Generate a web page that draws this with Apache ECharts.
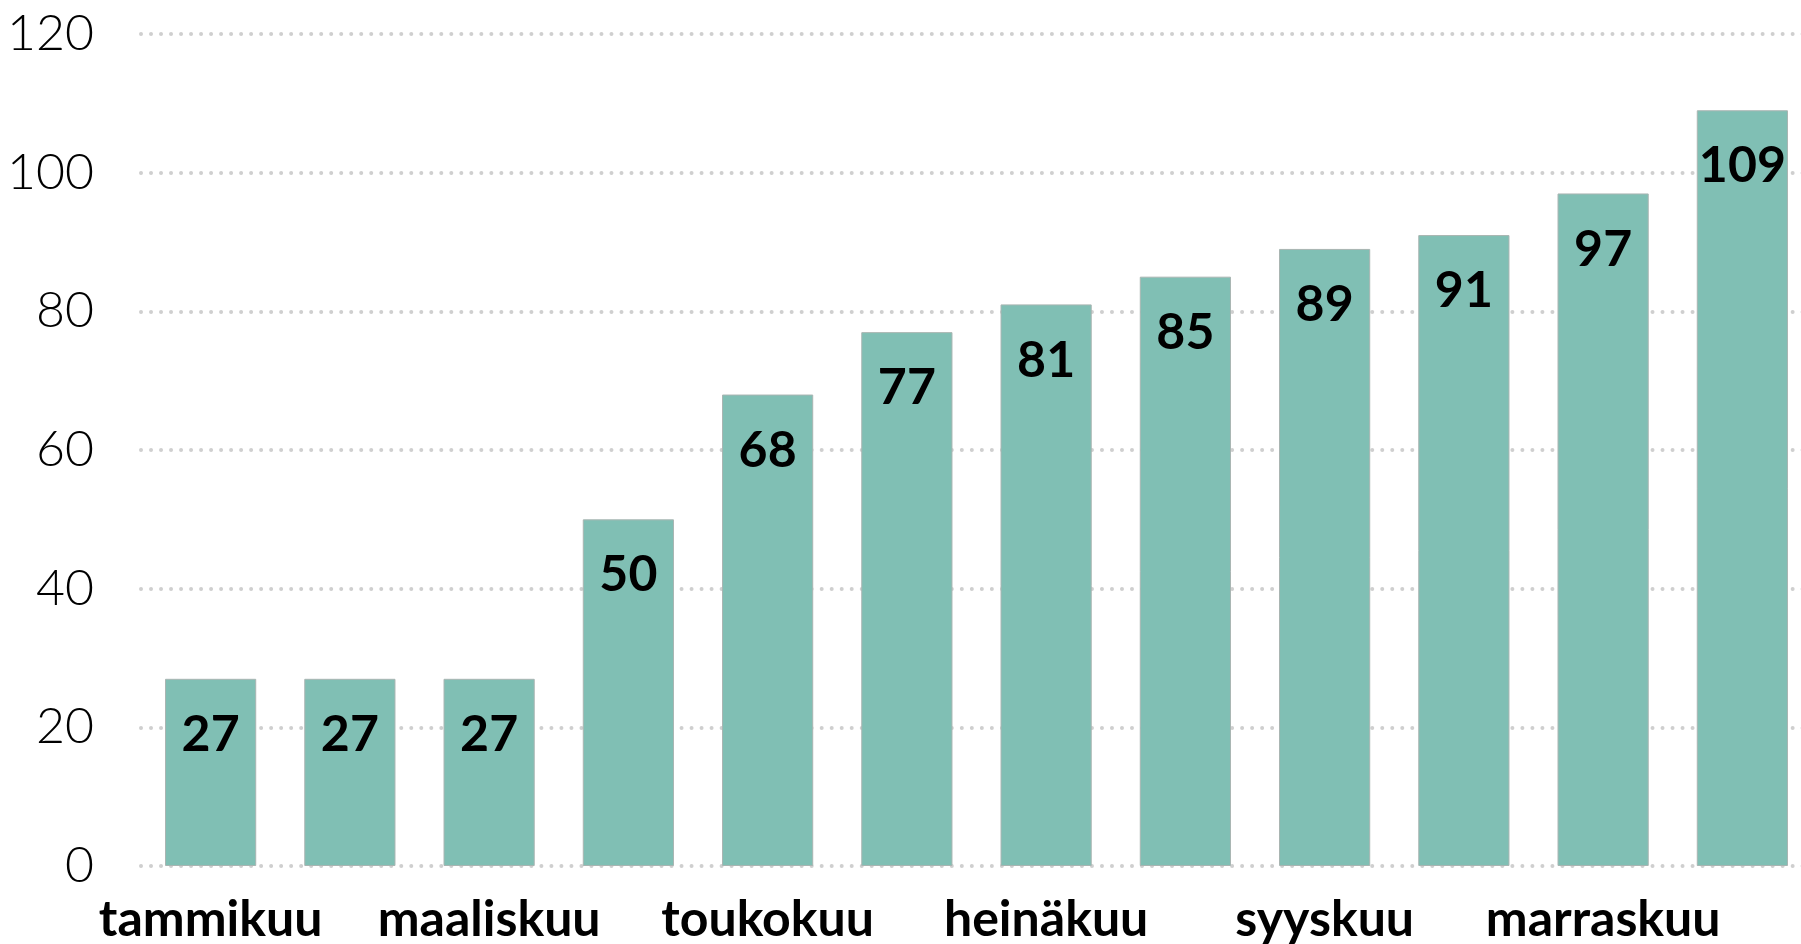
<!DOCTYPE html>
<html>
<head>
<meta charset="utf-8">
<script src="https://cdn.jsdelivr.net/npm/echarts@6/dist/echarts.min.js"></script>
<style>
  html, body { margin: 0; padding: 0; background: #fff; }
  #chart { width: 1801px; height: 944px; }
</style>
</head>
<body>
<div id="chart"></div>
<script>
// kuukaudet ja arvot
const months = ['tammikuu', 'helmikuu', 'maaliskuu', 'huhtikuu', 'toukokuu', 'kesäkuu',
  'heinäkuu', 'elokuu', 'syyskuu', 'lokakuu', 'marraskuu', 'joulukuu']
const values = [27, 27, 27, 50, 68, 77, 81, 85, 89, 91, 97, 109]
const yTicks = [0, 20, 40, 60, 80, 100, 120]

const chart = echarts.init(document.getElementById('chart'))

chart.setOption({
  animation: false,
  grid: {
    left: 141,
    top: 34,
    bottom: 78,
    right: -11,
    outerBoundsMode: 'none'
  },
  xAxis: {
    type: 'category',
    data: months,
    axisLine: { show: false },
    axisTick: { show: false },
    axisLabel: {
      interval: 1,
      margin: 29,
      fontFamily: 'Lato',
      fontWeight: 'bold',
      fontSize: 50,
      color: '#000'
    }
  },
  yAxis: {
    type: 'value',
    min: yTicks[0],
    max: yTicks[yTicks.length - 1],
    interval: 20,
    axisLine: { show: false },
    axisTick: { show: false },
    axisLabel: {
      margin: 47,
      fontFamily: 'Lato',
      fontWeight: 300,
      fontSize: 50,
      color: '#000'
    },
    splitLine: {
      lineStyle: {
        color: '#cfcfcf',
        width: 4,
        type: [0.01, 10],
        cap: 'round'
      }
    }
  },
  series: [
    {
      type: 'bar',
      data: values,
      barCategoryGap: '34.5%',
      itemStyle: {
        color: '#80bfb4',
        borderColor: '#a9b5b2',
        borderWidth: 1
      },
      label: {
        show: true,
        position: 'insideTop',
        distance: 31,
        fontFamily: 'Lato',
        fontWeight: 'bold',
        fontSize: 50,
        color: '#000'
      }
    }
  ]
})
</script>
</body>
</html>
